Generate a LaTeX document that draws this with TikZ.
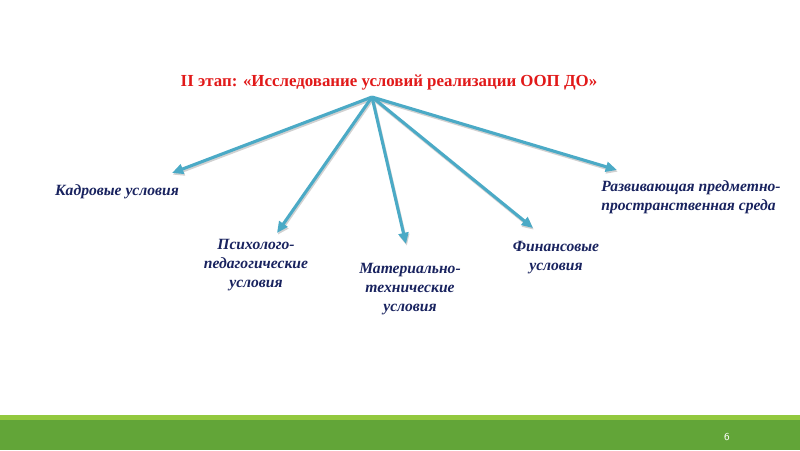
\documentclass[tikz,border=0pt]{standalone}
\usepackage{fontspec}
\setmainfont{Liberation Serif}
\usetikzlibrary{arrows.meta, positioning}
\definecolor{stagered}{RGB}{225,25,25}
\definecolor{condnavy}{RGB}{25,35,95}
\definecolor{arrblue}{RGB}{75,170,198}
\definecolor{barlight}{RGB}{146,200,62}
\definecolor{bardark}{RGB}{98,165,56}

\begin{document}
\begin{tikzpicture}[
  x=0.025cm, y=-0.025cm,
  stage/.style={text=stagered, font=\fontsize{12}{14}\selectfont\bfseries},
  cond/.style={text=condnavy, align=center, inner sep=0pt,
               font=\fontsize{11.1}{13.6}\selectfont\bfseries\itshape},
  arr/.style={-{Triangle[length=8pt,width=7pt]}, line width=2.2pt, #1},
  shade/.style={line width=2.2pt, black!18, -{Triangle[length=8pt,width=7pt]}}
]
\useasboundingbox (0,0) rectangle (800,450);

%% Footer bar
\fill[barlight] (0,415) rectangle (800,420);
\fill[bardark]  (0,420) rectangle (800,450);
\node[text=white, font=\fontsize{7.5}{8}\selectfont\sffamily] (page) at (727,437) {6};

%% Stage title
\node[stage] (stage) at (389,83) {II этап: «Исследование условий реализации ООП ДО»};
\coordinate (hub) at (372,97);

%% Conditions
\node[cond] (kadr)  at (117,192) {Кадровые условия};
\node[cond] (psych) at (256,265) {Психолого-\\педагогические\\условия};
\node[cond] (mat)   at (410,289) {Материально-\\технические\\условия};
\node[cond] (fin)   at (556,258) {Финансовые\\условия};
\node[cond, align=left] (env) at (691,197) {Развивающая предметно-\\пространственная среда};

%% Arrow tips
\coordinate (tkadr)  at (172,173);
\coordinate (tpsych) at (277,233);
\coordinate (tmat)   at (406,244);
\coordinate (tfin)   at (533,228);
\coordinate (tenv)   at (617,170);

%% Arrows
\foreach \t in {tkadr,tpsych,tmat,tfin,tenv}
  \draw[shade, transform canvas={xshift=0.6pt, yshift=-1.2pt}] (hub) -- (\t);
\foreach \t in {tkadr,tpsych,tmat,tfin,tenv}
  \draw[arr=arrblue] (hub) -- (\t);
\end{tikzpicture}
\end{document}
